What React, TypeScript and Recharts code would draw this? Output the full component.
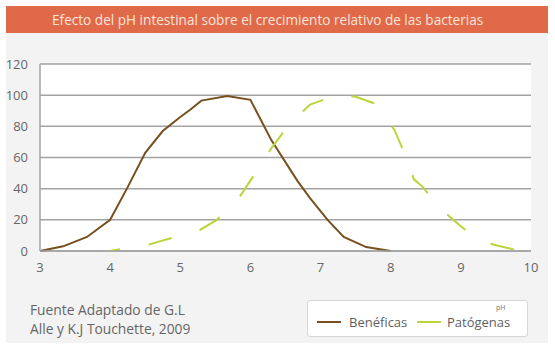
import React from 'react';
import { LineChart, Line, XAxis, YAxis, CartesianGrid } from 'recharts';

const TITLE = 'Efecto del pH intestinal sobre el crecimiento relativo de las bacterias';
const SOURCE_LINES = ['Fuente Adaptado de G.L', 'Alle y K.J Touchette, 2009'];

const benePh = [3, 3.33, 3.67, 4, 4.25, 4.5, 4.75, 5, 5.15, 5.3, 5.67, 6, 6.3, 6.67, 6.85, 7.1, 7.33, 7.65, 8];
const beneVal = [0, 3, 9, 20, 41, 63, 77, 86, 91, 96.5, 99.5, 97, 71, 45, 34, 20, 9, 2.5, 0];

const patoPh = [4, 4.18, 4.54, 4.85, 5.28, 5.52, 5.85, 6.07, 6.3, 6.53, 6.85, 7.23, 7.5, 7.75, 8.05, 8.27, 8.33, 8.46, 8.69, 8.92, 9.18, 9.47, 9.85, 10];
const patoVal = [0, 1.5, 4, 8, 13.5, 20, 35, 50, 66, 80, 94, 100, 99, 95, 78, 55, 46, 41, 28, 19, 9, 4, 0, 0];

const xTicks = [3, 4, 5, 6, 7, 8, 9, 10];
const yTicks = [0, 20, 40, 60, 80, 100, 120];

const beneData = benePh.map((ph, i) => ({ ph, v: beneVal[i] }));
const patoData = patoPh.map((ph, i) => ({ ph, v: patoVal[i] }));

const BROWN = '#76511f';
const GREEN = '#bcd43a';
const FONT = '"Open Sans", "Noto Sans", sans-serif';

const LegendBox = () => (
  <div
    style={{
      position: 'absolute',
      left: 307,
      top: 300,
      width: 221,
      height: 37,
      boxSizing: 'border-box',
      background: '#ffffff',
      border: '1px solid #d6d6d6',
      borderRadius: 3,
      fontFamily: FONT,
      fontSize: 13,
      color: '#5f5f5f',
    }}
  >
    <span style={{ position: 'absolute', left: 9, top: 20, width: 24, height: 2, background: BROWN }} />
    <span style={{ position: 'absolute', left: 41, top: 13, lineHeight: '16px' }}>Benéficas</span>
    <span style={{ position: 'absolute', left: 109, top: 20, width: 24, height: 2, background: GREEN }} />
    <span style={{ position: 'absolute', left: 139, top: 13, lineHeight: '16px' }}>Patógenas</span>
    <span style={{ position: 'absolute', left: 188, top: 3, fontSize: 7, color: '#777', lineHeight: '8px' }}>pH</span>
  </div>
);

export default function App() {
  return (
    <div style={{ position: 'absolute', left: 0, top: 0, width: 555, height: 362, background: '#ffffff', overflow: 'hidden' }}>
      <div style={{ position: 'absolute', left: 6, top: 6, width: 542, height: 337, background: '#f3f3f3' }} />
      <div
        style={{
          position: 'absolute',
          left: 6,
          top: 6,
          width: 542,
          height: 27,
          background: '#e0694a',
        }}
      />
      <div
        style={{
          position: 'absolute',
          left: 52,
          top: 6,
          height: 27,
          lineHeight: '27px',
          color: '#fbe4d9',
          fontFamily: FONT,
          fontSize: 13.6,
          whiteSpace: 'nowrap',
        }}
      >
        {TITLE}
      </div>
      {SOURCE_LINES.map((l, i) => (
        <div
          key={l}
          style={{
            position: 'absolute',
            left: 30,
            top: 300 + i * 19,
            fontFamily: FONT,
            fontSize: 13.8,
            lineHeight: '19px',
            color: '#666666',
            whiteSpace: 'nowrap',
          }}
        >
          {l}
        </div>
      ))}
      <div style={{ position: 'absolute', left: 0, top: 0 }}>
        <LineChart width={555} height={362} margin={{ top: 64, right: 24, bottom: 81, left: 6 }}>
          <CartesianGrid vertical={false} stroke="#a3a3a3" strokeWidth={1.5} fill="#ffffff" />
          <XAxis
            type="number"
            dataKey="ph"
            domain={[3, 10]}
            ticks={xTicks}
            allowDuplicatedCategory={false}
            axisLine={{ stroke: '#a3a3a3', strokeWidth: 1.5 }}
            tickLine={false}
            tickMargin={6}
            height={30}
            tick={{ fill: '#666666', fontSize: 13, fontFamily: FONT }}
          />
          <YAxis
            type="number"
            domain={[0, 120]}
            ticks={yTicks}
            width={34}
            axisLine={{ stroke: '#a3a3a3', strokeWidth: 1.5 }}
            tickLine={false}
            tickMargin={6}
            tick={{ fill: '#666666', fontSize: 13, fontFamily: FONT }}
          />
          <Line
            data={beneData}
            dataKey="v"
            name="Benéficas"
            stroke={BROWN}
            strokeWidth={2}
            dot={false}
            type="linear"
            isAnimationActive={false}
          />
          <Line
            data={patoData}
            dataKey="v"
            name="Patógenas"
            stroke={GREEN}
            strokeWidth={2}
            strokeDasharray="24 29"
            strokeDashoffset={14}
            dot={false}
            type="linear"
            isAnimationActive={false}
          />
        </LineChart>
      </div>
      <LegendBox />
    </div>
  );
}
